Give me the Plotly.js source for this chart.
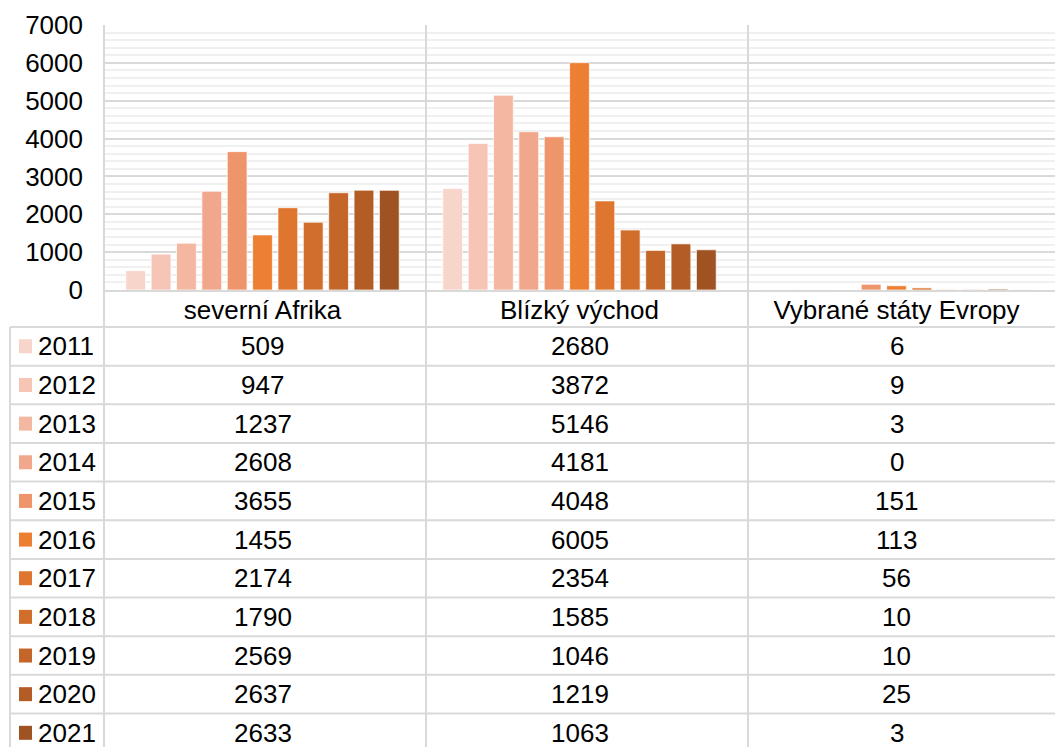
<!DOCTYPE html>
<html>
<head>
<meta charset="utf-8">
<script src="https://cdn.plot.ly/plotly-3.0.1.min.js"></script>
<style>html,body{margin:0;padding:0;background:#fff;}#chart{width:1055px;height:747px;}</style>
</head>
<body>
<div id="chart"></div>
<script>
const categories = ["severní Afrika", "Blízký východ", "Vybrané státy Evropy"];
const years = ["2011","2012","2013","2014","2015","2016","2017","2018","2019","2020","2021"];
const severniAfrika = [509, 947, 1237, 2608, 3655, 1455, 2174, 1790, 2569, 2637, 2633];
const blizkyVychod = [2680, 3872, 5146, 4181, 4048, 6005, 2354, 1585, 1046, 1219, 1063];
const vybraneEvropa = [6, 9, 3, 0, 151, 113, 56, 10, 10, 25, 3];
const colors = ["#F8D5CB","#F6C5B6","#F4B7A2","#F0A78B","#EF956C","#ED7F33","#DF762F","#D16E2C","#C4662A","#B35C26","#A05322"];
const yTicks = [0,1000,2000,3000,4000,5000,6000,7000];

const W = 1055, H = 747;
const L = 104, T = 25, AX = 290;
const PH = AX - T, PW = W - L;
const px = X => (X - L) / PW;
const py = Y => (AX - Y) / PH;
const rowTop = 327, rowH = 38.65;
const FONT = "Liberation Sans, Arial, sans-serif";
const FS = 26;
const LINE = "#d9d9d9";

const series = [severniAfrika, blizkyVychod, vybraneEvropa];
const traces = years.map((yr, i) => ({
  type: "bar",
  name: yr,
  x: categories,
  y: series.map(s => s[i]),
  marker: {color: colors[i], line: {color: "rgba(255,255,255,0.7)", width: 1}},
  hoverinfo: "skip"
}));

const shapes = [];
const annotations = [];
[[L, T], [426, T], [748, T]].forEach(([X, Y0]) => {
  shapes.push({type: "line", xref: "paper", yref: "paper", x0: px(X), x1: px(X), y0: py(Y0), y1: py(H + 5), line: {color: LINE, width: 2}});
});
shapes.push({type: "line", xref: "paper", yref: "paper", x0: px(10), x1: px(10), y0: py(rowTop), y1: py(H + 5), line: {color: LINE, width: 2}});
for (let k = 0; k <= years.length; k++) {
  const Y = rowTop + rowH * k;
  shapes.push({type: "line", xref: "paper", yref: "paper", x0: px(10), x1: 1, y0: py(Y), y1: py(Y), line: {color: LINE, width: 2}});
}
years.forEach((yr, i) => {
  const yc = rowTop + rowH * (i + 0.5);
  shapes.push({type: "rect", xref: "paper", yref: "paper", x0: px(19), x1: px(32), y0: py(yc + 7), y1: py(yc - 7), fillcolor: colors[i], line: {width: 0}});
  annotations.push({xref: "paper", yref: "paper", x: px(36), y: py(yc), xanchor: "left", yanchor: "middle", text: yr, showarrow: false, font: {family: FONT, size: FS, color: "#000"}});
  series.forEach((s, j) => {
    annotations.push({xref: "x", yref: "paper", x: categories[j], y: py(yc), xanchor: "center", yanchor: "middle", text: String(s[i]), showarrow: false, font: {family: FONT, size: FS, color: "#000"}});
  });
});

const layout = {
  width: W, height: H,
  margin: {l: L, r: 0, t: T, b: H - AX, pad: 0},
  paper_bgcolor: "#fff", plot_bgcolor: "#fff",
  showlegend: false,
  barmode: "group",
  bargap: 0.12,
  bargroupgap: 0.22,
  font: {family: FONT, size: FS, color: "#000"},
  xaxis: {
    type: "category",
    showgrid: false, zeroline: false, showline: true, linecolor: LINE, linewidth: 2,
    ticks: "", tickfont: {family: FONT, size: FS, color: "#000"},
    ticklabelstandoff: -4,
    fixedrange: true
  },
  yaxis: {
    range: [0, 7000],
    tickvals: yTicks,
    ticktext: yTicks.map(String),
    showgrid: true, gridcolor: LINE, gridwidth: 2,
    zeroline: false, showline: false,
    minor: {dtick: 200, showgrid: true, gridcolor: "#f0f0f0", gridwidth: 2},
    ticks: "", tickfont: {family: FONT, size: FS, color: "#000"},
    ticklabelstandoff: 20,
    fixedrange: true
  },
  shapes: shapes,
  annotations: annotations
};

Plotly.newPlot("chart", traces, layout, {displayModeBar: false, staticPlot: true});
</script>
</body>
</html>
